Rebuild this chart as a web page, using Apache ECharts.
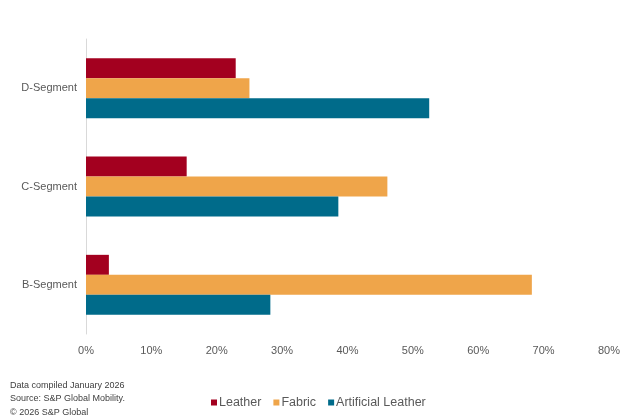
<!DOCTYPE html>
<html><head><meta charset="utf-8">
<script src="https://cdn.jsdelivr.net/npm/echarts@6/dist/echarts.min.js"></script>
<style>html,body{margin:0;padding:0;background:#fff}#c{width:623px;height:418px}</style>
</head><body><div id="c"></div>
<script>
const categories = ['B-Segment', 'C-Segment', 'D-Segment'];
const leather = [3.5, 15.4, 22.9];
const fabric = [68.2, 46.1, 25.0];
const artificialLeather = [28.2, 38.6, 52.5];
const xTicks = [0, 10, 20, 30, 40, 50, 60, 70, 80];
const footnote = ['Data compiled January 2026', 'Source: S&P Global Mobility.', '\u00a9 2026 S&P Global'];

const font = 'Liberation Sans, Arial, sans-serif';
const chart = echarts.init(document.getElementById('c'));
chart.setOption({
  animation: false,
  textStyle: { fontFamily: font },
  grid: { left: 86, right: 13, top: 39, bottom: 84, containLabel: false },
  legend: {
    data: ['Leather', 'Fabric', 'Artificial Leather'],
    bottom: 4, left: 206,
    itemWidth: 6, itemHeight: 6, itemGap: 12,
    icon: 'rect',
    textStyle: { fontFamily: font, fontSize: 12.5, color: '#595959', padding: [0, 0, 0, -3] }
  },
  xAxis: {
    type: 'value', min: xTicks[0], max: xTicks[xTicks.length - 1], interval: 10,
    axisLabel: { formatter: v => v + '%', color: '#595959', fontSize: 11, margin: 11 },
    axisLine: { show: false }, axisTick: { show: false }, splitLine: { show: false }
  },
  yAxis: {
    type: 'category', data: categories,
    axisLine: { show: true, lineStyle: { color: '#d9d9d9' } },
    axisTick: { show: false },
    axisLabel: { color: '#595959', fontSize: 11, margin: 9 }
  },
  series: [
    { name: 'Leather', type: 'bar', data: leather, itemStyle: { color: '#a3001f' }, barWidth: 20, barGap: '0%', barCategoryGap: '39%' },
    { name: 'Fabric', type: 'bar', data: fabric, itemStyle: { color: '#efa54a' }, barWidth: 20, barGap: '0%' },
    { name: 'Artificial Leather', type: 'bar', data: artificialLeather, itemStyle: { color: '#006b8a' }, barWidth: 20, barGap: '0%' }
  ],
  graphic: footnote.map((t, i) => ({
    type: 'text', left: 10, top: 381 + i * 13.5,
    style: { text: t, fontFamily: font, fontSize: 9, fill: '#404040' }
  }))
});
</script></body></html>
